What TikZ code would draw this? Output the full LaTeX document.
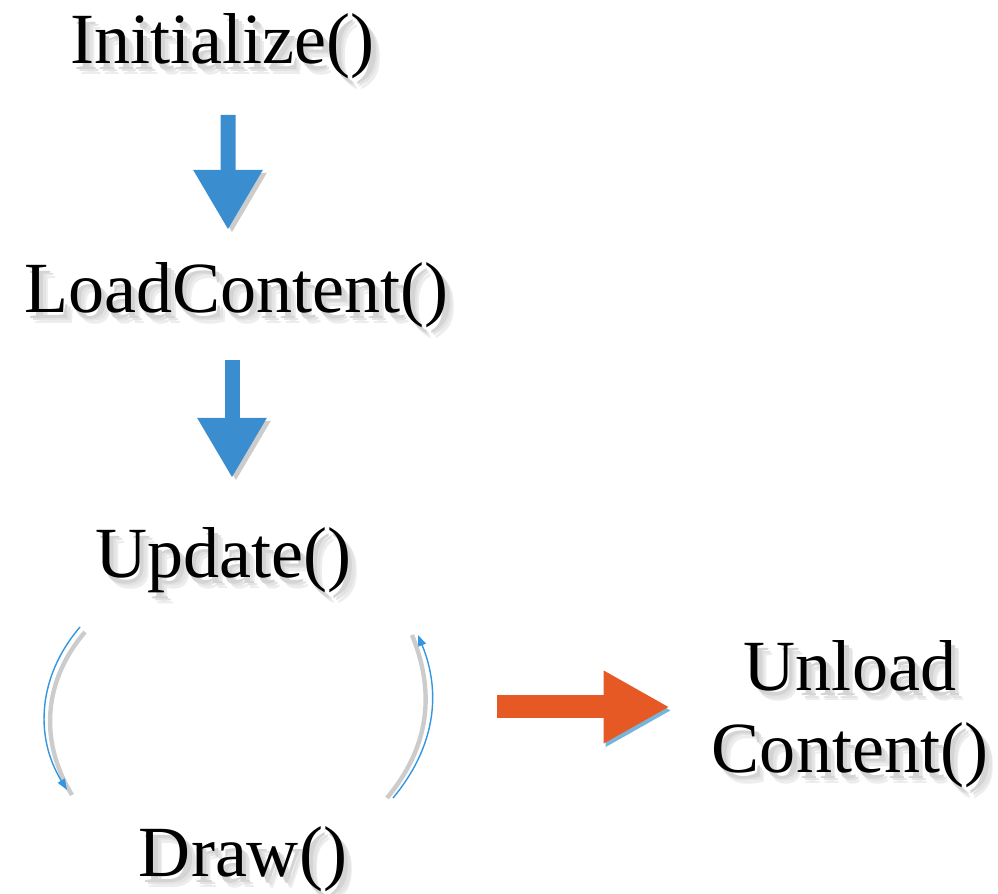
\documentclass[tikz,border=0pt]{standalone}
\usepackage{fontspec}
\setmainfont{Liberation Serif}
\usetikzlibrary{arrows.meta}

\definecolor{stageblue}{RGB}{58,142,208}
\definecolor{loopblue}{RGB}{52,150,222}
\definecolor{exitorange}{RGB}{230,88,36}
\definecolor{exitshadow}{RGB}{120,180,215}

% soft grey shadow behind a label
\newcommand{\shadowed}[1]{%
    \makebox[0pt][l]{\kern5pt\raisebox{-6pt}[0pt][0pt]{\color{black!7}#1}}%
    \makebox[0pt][l]{\kern4pt\raisebox{-4.5pt}[0pt][0pt]{\color{black!11}#1}}%
    \makebox[0pt][l]{\kern2.5pt\raisebox{-3pt}[0pt][0pt]{\color{black!17}#1}}%
    #1}

\begin{document}
\begin{tikzpicture}[
    stage/.style={
        inner sep=0pt,
        anchor=base,
        font=\fontsize{41}{46}\selectfont
    },
    flow down/.style={
        stageblue,
        line width=0.3cm,
        -{Triangle[length=1.2cm,width=1.3cm]},
        preaction={draw=black!20, transform canvas={shift={(0.08,-0.06)}}}
    },
    loop arc/.style={
        loopblue,
        line width=0.8pt,
        -{Triangle[length=0.22cm,width=0.16cm]}
    },
    exit arrow/.style={
        exitorange,
        line width=0.46cm,
        -{Triangle[length=1.32cm,width=1.36cm]},
        preaction={draw=exitshadow, transform canvas={shift={(0.04,-0.07)}}}
    }
]

\useasboundingbox (0,0) rectangle (19.96,-17.88);

% Stages
\node [stage] (init) at (4.45,-1.28) {\shadowed{Initialize()}};
\node [stage] (load) at (4.73,-6.26) {\shadowed{LoadContent()}};
\node [stage] (update) at (4.47,-11.56) {\shadowed{Update()}};
\node [stage] (draw) at (4.86,-17.54) {\shadowed{Draw()}};
\node [stage, align=center] (unload) at (17.0,-15.46) {\shadowed{Unload}\\[1pt]\shadowed{Content()}};

% Start-up arrows
\draw [flow down] ([xshift=0.11cm,yshift=-1.02cm]init.base) -- ([xshift=-0.17cm,yshift=1.66cm]load.base);
\draw [flow down] ([xshift=-0.09cm,yshift=-0.94cm]load.base) -- ([xshift=0.17cm,yshift=2.0cm]update.base);

% Game loop
\draw [loop arc, preaction={draw=black!20, line width=2.5pt, -, transform canvas={shift={(0.1,-0.1)}}}]
    ([shift={(-2.87,-0.98)}]update.base) to [bend right=36] ([shift={(-3.52,1.74)}]draw.base);
\draw [loop arc, preaction={draw=black!20, line width=2.5pt, -, transform canvas={shift={(-0.12,0)}}}]
    ([shift={(3.0,1.58)}]draw.base) to [bend right=31] ([shift={(3.89,-1.14)}]update.base);

% Leaving the loop
\coordinate (loopexit) at (9.94,-14.14);
\draw [exit arrow, shorten >=0.84cm] (loopexit) -- (loopexit -| unload.west);

\end{tikzpicture}
\end{document}
